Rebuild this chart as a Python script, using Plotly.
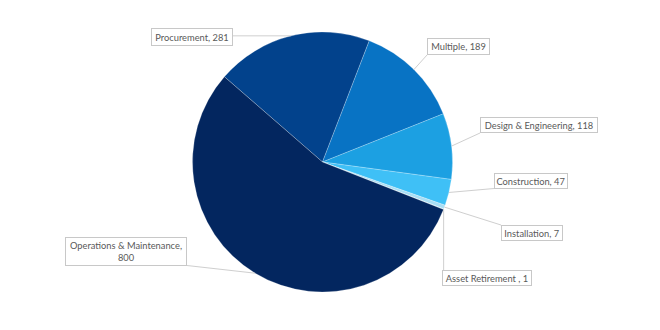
import math
import plotly.graph_objects as go

categories = ["Procurement", "Multiple", "Design & Engineering", "Construction",
              "Installation", "Asset Retirement ", "Operations & Maintenance"]
values = [281, 189, 118, 47, 7, 1, 800]
label_texts = ["Procurement, 281", "Multiple, 189", "Design & Engineering, 118",
               "Construction, 47", "Installation, 7", "Asset Retirement , 1",
               "Operations & Maintenance,<br>800"]

colors = ["#02428c", "#0873c4", "#1ca0e2", "#3fc0f6", "#a9def5", "#cfeefb", "#03265f"]

W, H = 660, 330
CX, CY, R = 322.5, 162, 130
ROT = -49

# label box layout: center x, center y, width, height (pixels)
boxes = [
    (191.5, 37, 82, 18),
    (458.5, 46.5, 63, 17),
    (539, 125, 118, 16),
    (531, 180.5, 74, 16),
    (532, 233, 62, 16),
    (487, 278, 90, 16),
    (126, 251, 122, 29),
]

fig = go.Figure(go.Pie(
    labels=categories, values=values, sort=False, direction="clockwise",
    rotation=ROT, marker=dict(colors=colors, line=dict(color="rgba(255,255,255,0.45)", width=0.5)),
    textinfo="none", hoverinfo="label+value", showlegend=False,
    domain=dict(x=[(CX - R) / W, (CX + R) / W], y=[1 - (CY + R) / H, 1 - (CY - R) / H]),
))

total = sum(values)
cum = 0
shapes = []
annotations = []
for v, txt, (bx, by, bw, bh) in zip(values, label_texts, boxes):
    mid = ROT + (cum + v / 2) / total * 360
    cum += v
    a = math.radians(mid)
    ax = CX + R * math.sin(a)
    ay = CY - R * math.cos(a)
    # nearest point on the box
    px = min(max(ax, bx - bw / 2), bx + bw / 2)
    py = min(max(ay, by - bh / 2), by + bh / 2)
    shapes.append(dict(type="line", xref="paper", yref="paper",
                       x0=ax / W, y0=1 - ay / H, x1=px / W, y1=1 - py / H,
                       line=dict(color="#cfcfcf", width=1)))
    annotations.append(dict(x=bx / W, y=1 - by / H, xref="paper", yref="paper",
                            text=txt, showarrow=False, xanchor="center", yanchor="middle",
                            width=bw - 4, height=bh - 4, borderpad=1, bordercolor="#c8c8c8",
                            borderwidth=1, bgcolor="white",
                            font=dict(family="Lato, Noto Sans, sans-serif", size=9.3, color="#595959")))

fig.update_layout(width=W, height=H, margin=dict(l=0, r=0, t=0, b=0),
                  paper_bgcolor="white", plot_bgcolor="white",
                  shapes=shapes, annotations=annotations)
fig.write_html("out.html")
